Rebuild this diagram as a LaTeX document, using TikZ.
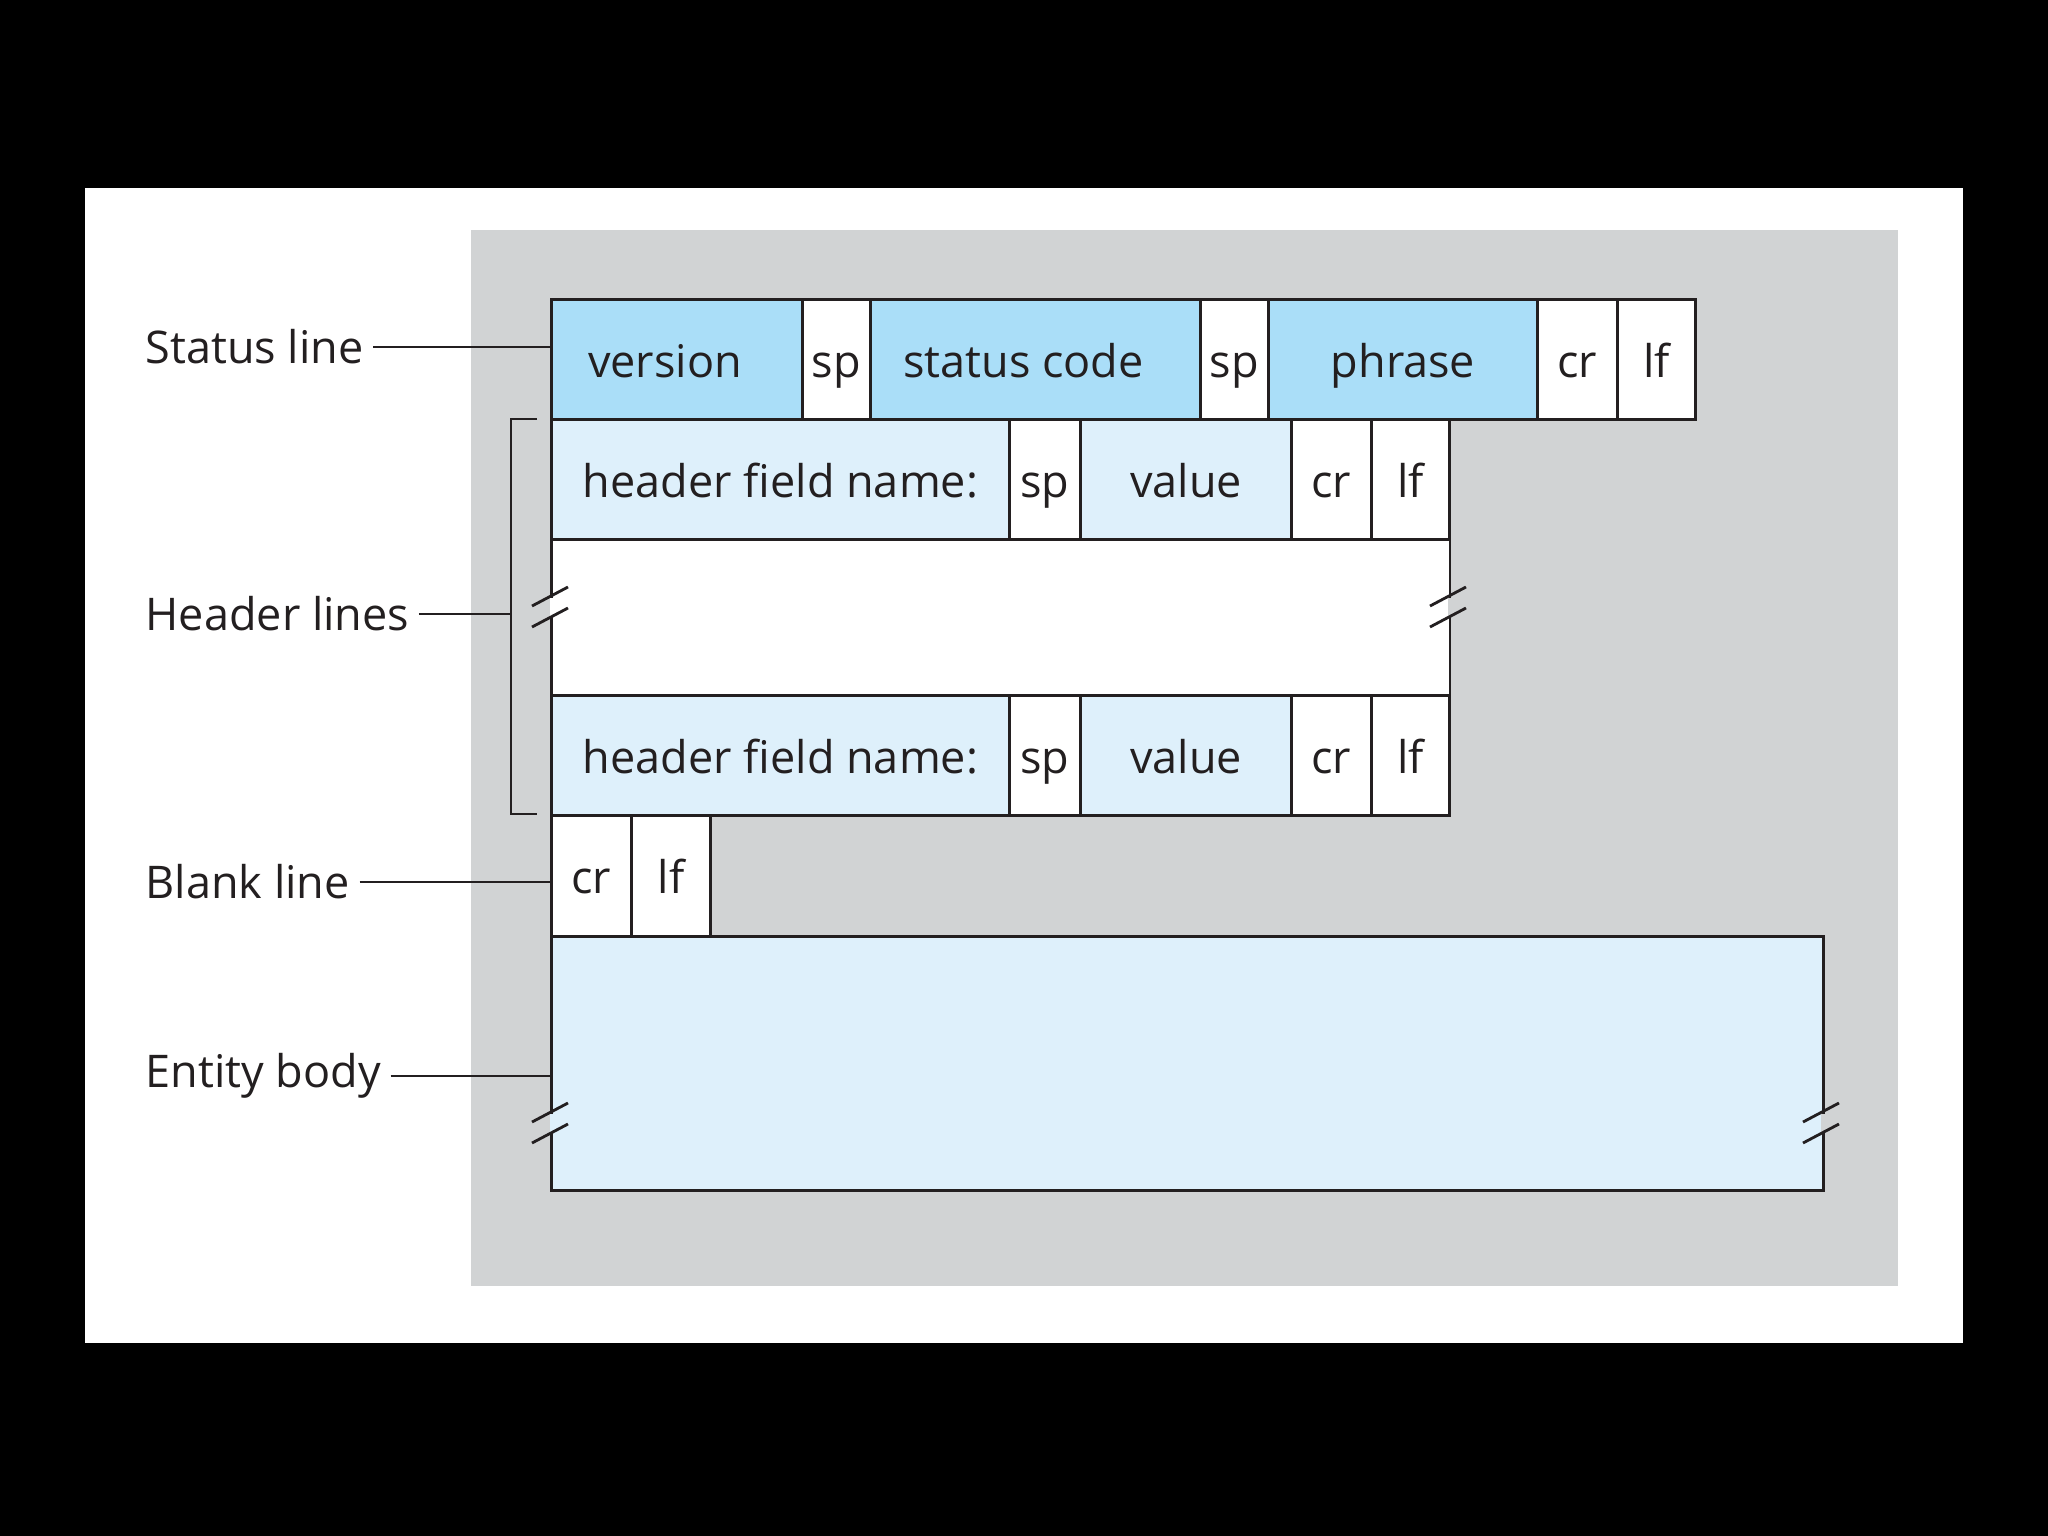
\documentclass[tikz,border=0pt]{standalone}
\usepackage{fontspec}
\setmainfont{Open Sans}
\definecolor{stblue}{RGB}{170,222,248}
\definecolor{hdblue}{RGB}{222,240,251}
\definecolor{panelgray}{RGB}{209,211,212}
\definecolor{ink}{RGB}{35,31,32}
\tikzset{
  cell/.style={draw=ink, line width=0.8pt, anchor=north west, inner sep=0pt, text=ink,
               font=\fontsize{12.8}{15}\selectfont, minimum height=1.2cm,
               text height=0.36cm, text depth=0pt},
  lbl/.style={anchor=west, inner xsep=0.09cm, inner ysep=0pt, text=ink,
              font=\fontsize{12.8}{15}\selectfont},
  conn/.style={draw=ink, line width=0.6pt},
  slash/.style={draw=ink, line width=0.8pt}
}
\newcommand{\brkmark}[4]{% x, y, left colour, right colour
  \fill[#3] (#1-4,#2-9) rectangle (#1,#2+9);
  \fill[#4] (#1,#2-9) rectangle (#1+4,#2+9);
  \draw[slash] (#1-18,#2-1) -- (#1+18,#2-20);
  \draw[slash] (#1-18,#2+20) -- (#1+18,#2+1);
}
\begin{document}
\begin{tikzpicture}[x=0.01cm,y=-0.01cm]
\useasboundingbox (0,0) rectangle (2048,1536);
\fill[black] (0,0) rectangle (2048,1536);
\fill[white] (85,188) rectangle (1963,1343);
\fill[panelgray] (471,230) rectangle (1898,1286);

% status line
\node[cell, fill=stblue, minimum width=2.51cm] (ver) at (550,298) {version\kern0.24cm};
\node[cell, fill=white, minimum width=0.68cm] (sp1) at (801,298) {sp};
\node[cell, fill=stblue, minimum width=3.30cm] (code) at (869,298) {status code\kern0.24cm};
\node[cell, fill=white, minimum width=0.68cm] (sp2) at (1199,298) {sp};
\node[cell, fill=stblue, minimum width=2.69cm] (phr) at (1267,298) {phrase};
\node[cell, fill=white, minimum width=0.80cm] (cr0) at (1536,298) {cr};
\node[cell, fill=white, minimum width=0.78cm] (lf0) at (1616,298) {lf};

% header line 1
\node[cell, fill=hdblue, minimum width=4.58cm] (hn1) at (550,418) {header field name:};
\node[cell, fill=white, minimum width=0.71cm] (hs1) at (1008,418) {sp};
\node[cell, fill=hdblue, minimum width=2.11cm] (hv1) at (1079,418) {value};
\node[cell, fill=white, minimum width=0.80cm] (hc1) at (1290,418) {cr};
\node[cell, fill=white, minimum width=0.78cm] (hl1) at (1370,418) {lf};

% gap between header lines
\node[cell, fill=white, minimum width=8.98cm, minimum height=1.56cm] (gap) at (550,538) {};

% header line 2
\node[cell, fill=hdblue, minimum width=4.58cm] (hn2) at (550,694) {header field name:};
\node[cell, fill=white, minimum width=0.71cm] (hs2) at (1008,694) {sp};
\node[cell, fill=hdblue, minimum width=2.11cm] (hv2) at (1079,694) {value};
\node[cell, fill=white, minimum width=0.80cm] (hc2) at (1290,694) {cr};
\node[cell, fill=white, minimum width=0.78cm] (hl2) at (1370,694) {lf};

% blank line
\node[cell, fill=white, minimum width=0.80cm, minimum height=1.21cm] (bcr) at (550,814) {cr};
\node[cell, fill=white, minimum width=0.79cm, minimum height=1.21cm] (blf) at (630,814) {lf};

% entity body
\node[cell, fill=hdblue, minimum width=12.71cm, minimum height=2.54cm] (ent) at (550,935) {};

% break marks
\brkmark{550}{607}{panelgray}{white}
\brkmark{1448}{607}{white}{panelgray}
\brkmark{550}{1123}{panelgray}{hdblue}
\brkmark{1821}{1123}{hdblue}{panelgray}

% labels
\node[lbl] (lstat) at (136,347) {Status line};
\node[lbl] (lhead) at (136,614) {Header lines};
\node[lbl] (lblank) at (136,882) {Blank line};
\node[lbl] (lent) at (136,1076) {Entity body};

\coordinate (bt) at (537,419);
\coordinate (btv) at (511,419);
\coordinate (bbv) at (511,814);
\coordinate (bb) at (537,814);
\draw[conn] (bt) -- (btv) -- (bbv) -- (bb);

\draw[conn] (lstat.east) -- (lstat.east -| ver.west);
\draw[conn] (lhead.east) -- (lhead.east -| btv);
\draw[conn] (lblank.east) -- (lblank.east -| bcr.west);
\draw[conn] (lent.east) -- (lent.east -| ent.west);
\end{tikzpicture}
\end{document}
